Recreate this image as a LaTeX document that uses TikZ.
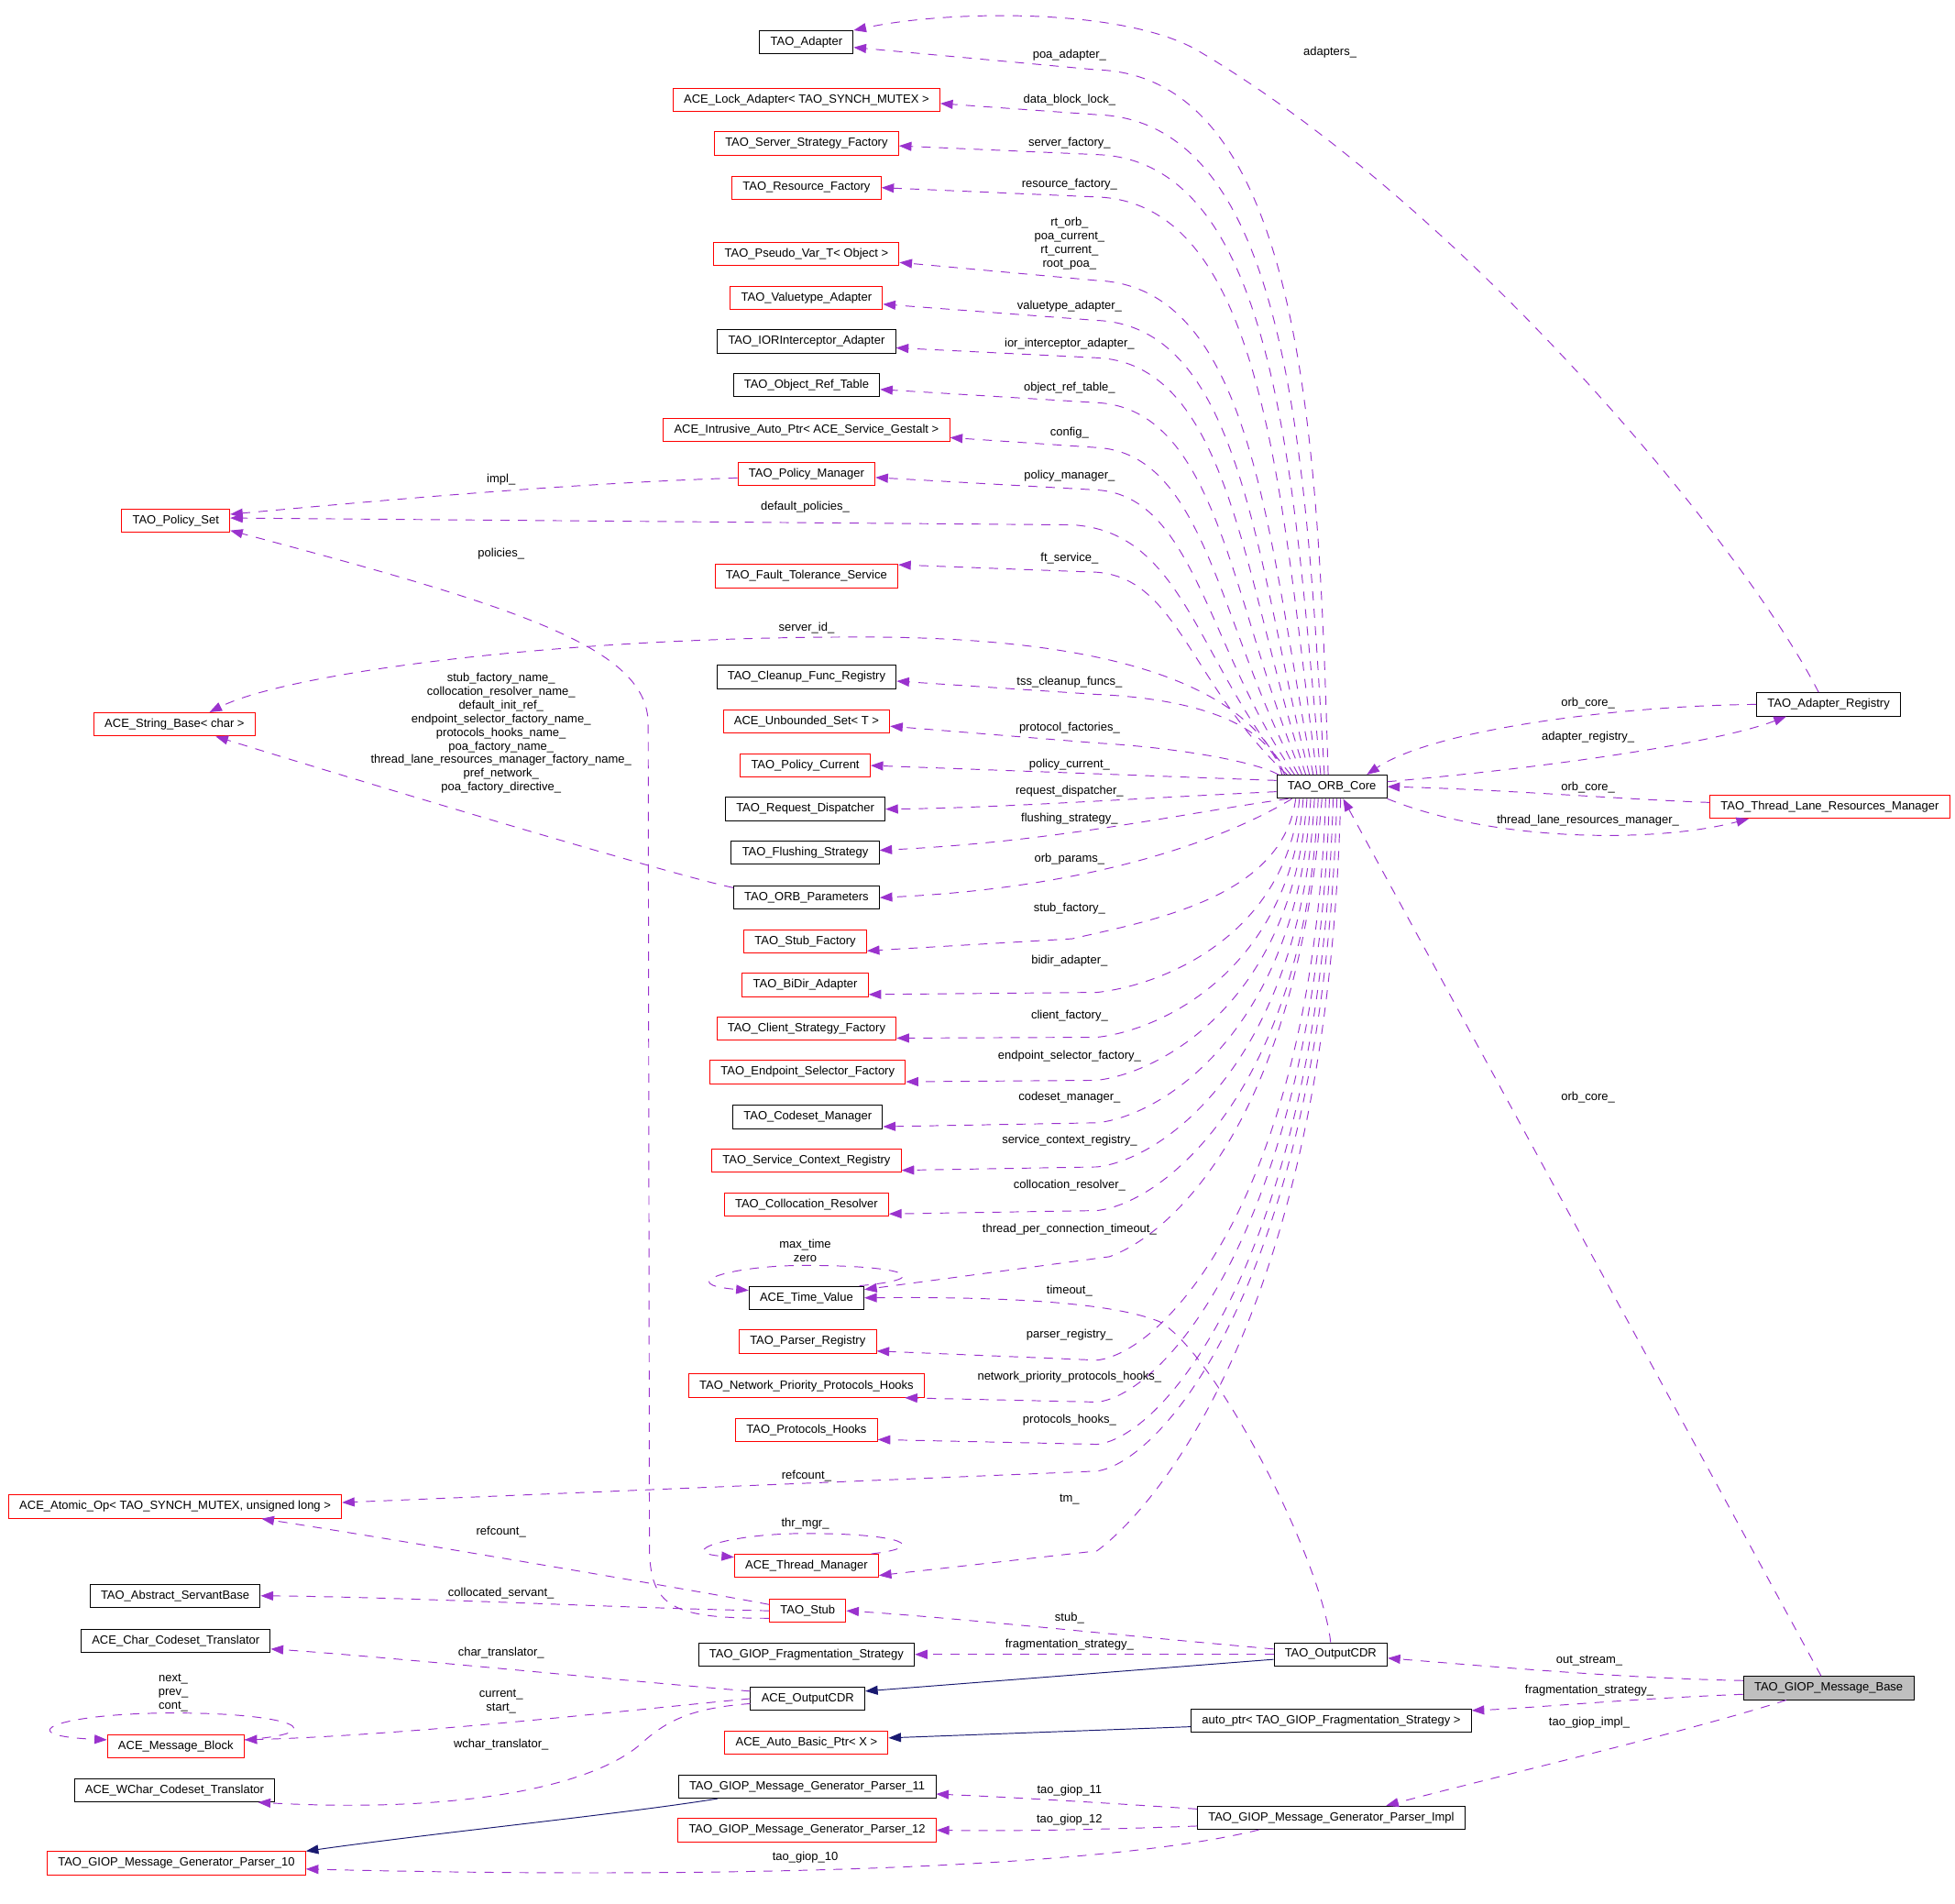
\documentclass[tikz,border=0pt]{standalone}
\usepackage{fontspec}
\setmainfont{Liberation Sans}
\usetikzlibrary{arrows.meta}
\definecolor{collcol}{HTML}{9A32CD}
\definecolor{inhrcol}{HTML}{191970}

\begin{document}
\begin{tikzpicture}[x=0.03cm,y=-0.03cm,
  every node/.style={font=\fontsize{8.15}{9.4}\selectfont},
  cls/.style={draw=black,fill=white,line width=0.6pt,inner xsep=0.26cm,inner ysep=0pt,minimum height=0.56cm},
  clsr/.style={cls,draw=red},
  clsmain/.style={cls,fill=gray!50},
  lbl/.style={inner sep=0pt,align=center},
  coll/.style={draw=collcol,line width=0.6pt,dash pattern=on 0.22cm off 0.2cm,-{Triangle[length=0.3cm,width=0.22cm]}},
  inhr/.style={draw=inhrcol,line width=0.6pt,-{Triangle[length=0.3cm,width=0.22cm]}}]
\useasboundingbox (0,0) rectangle (1568.4,1526.5);

% classes, middle column
\node[cls] (adapter) at (647,34) {TAO\_Adapter};
\node[clsr] (lockad) at (647,80) {ACE\_Lock\_Adapter< TAO\_SYNCH\_MUTEX >};
\node[clsr] (ssfact) at (647,115) {TAO\_Server\_Strategy\_Factory};
\node[clsr] (resfact) at (647,150.5) {TAO\_Resource\_Factory};
\node[clsr] (pseudovar) at (647,203.5) {TAO\_Pseudo\_Var\_T< Object >};
\node[clsr] (valadapter) at (647,239) {TAO\_Valuetype\_Adapter};
\node[cls] (iorad) at (647,274) {TAO\_IORInterceptor\_Adapter};
\node[cls] (objreft) at (647,309) {TAO\_Object\_Ref\_Table};
\node[clsr] (intrusive) at (647,345) {ACE\_Intrusive\_Auto\_Ptr< ACE\_Service\_Gestalt >};
\node[clsr] (polmgr) at (647,380) {TAO\_Policy\_Manager};
\node[clsr] (ftserv) at (647,462) {TAO\_Fault\_Tolerance\_Service};
\node[cls] (cleanup) at (647,543) {TAO\_Cleanup\_Func\_Registry};
\node[clsr] (unbset) at (647,578.5) {ACE\_Unbounded\_Set< T >};
\node[clsr] (polcur) at (646,614) {TAO\_Policy\_Current};
\node[cls] (reqdisp) at (646,649) {TAO\_Request\_Dispatcher};
\node[cls] (flushstr) at (646,684) {TAO\_Flushing\_Strategy};
\node[cls] (orbparams) at (647,720) {TAO\_ORB\_Parameters};
\node[clsr] (stubfact) at (646,755) {TAO\_Stub\_Factory};
\node[clsr] (bidir) at (646,790) {TAO\_BiDir\_Adapter};
\node[clsr] (clistrat) at (647,825) {TAO\_Client\_Strategy\_Factory};
\node[clsr] (epsel) at (648,860) {TAO\_Endpoint\_Selector\_Factory};
\node[cls] (codeset) at (648,896) {TAO\_Codeset\_Manager};
\node[clsr] (svcctx) at (647,931) {TAO\_Service\_Context\_Registry};
\node[clsr] (colres) at (647,966) {TAO\_Collocation\_Resolver};
\node[cls] (timeval) at (647,1041) {ACE\_Time\_Value};
\node[clsr] (parsreg) at (648,1076) {TAO\_Parser\_Registry};
\node[clsr] (npphooks) at (647,1111.5) {TAO\_Network\_Priority\_Protocols\_Hooks};
\node[clsr] (prothooks) at (647,1147) {TAO\_Protocols\_Hooks};
\node[clsr] (thrmgr) at (647,1256) {ACE\_Thread\_Manager};
\node[clsr] (stub) at (648,1292) {TAO\_Stub};
\node[cls] (fragstr) at (647,1327) {TAO\_GIOP\_Fragmentation\_Strategy};
\node[cls] (aoutcdr) at (648,1362.5) {ACE\_OutputCDR};
\node[clsr] (autobasic) at (647,1398) {ACE\_Auto\_Basic\_Ptr< X >};
\node[cls] (gmgp11) at (647.5,1433) {TAO\_GIOP\_Message\_Generator\_Parser\_11};
\node[clsr] (gmgp12) at (647.5,1468) {TAO\_GIOP\_Message\_Generator\_Parser\_12};

% classes, left column
\node[clsr] (polset) at (141,417.5) {TAO\_Policy\_Set};
\node[clsr] (strbase) at (140,581) {ACE\_String\_Base< char >};
\node[clsr] (atomicop) at (140.5,1208.5) {ACE\_Atomic\_Op< TAO\_SYNCH\_MUTEX, unsigned long >};
\node[cls] (servbase) at (140.5,1280) {TAO\_Abstract\_ServantBase};
\node[cls] (charcs) at (141,1316) {ACE\_Char\_Codeset\_Translator};
\node[clsr] (msgblock) at (141,1400.5) {ACE\_Message\_Block};
\node[cls] (wcharcs) at (140,1436) {ACE\_WChar\_Codeset\_Translator};
\node[clsr] (gmgp10) at (141.5,1494.5) {TAO\_GIOP\_Message\_Generator\_Parser\_10};

% classes, right
\node[cls] (orbcore) at (1068.5,631) {TAO\_ORB\_Core};
\node[cls] (toutcdr) at (1067.5,1327) {TAO\_OutputCDR};
\node[cls] (autoptr) at (1068,1380) {auto\_ptr< TAO\_GIOP\_Fragmentation\_Strategy >};
\node[cls] (gmgpimpl) at (1068,1458) {TAO\_GIOP\_Message\_Generator\_Parser\_Impl};
\node[cls] (adreg) at (1467,565) {TAO\_Adapter\_Registry};
\node[clsr] (tlrm) at (1468,647) {TAO\_Thread\_Lane\_Resources\_Manager};
\node[clsmain] (msgbase) at (1467,1354) {TAO\_GIOP\_Message\_Base};

% ORB_Core, upper fan
\draw[coll] ([xshift=-0.09cm]orbcore.north) .. controls (1058,367) and (1048,61) .. (880,56) -- ([yshift=-0.12cm]adapter.east);%poa_adapter_
\draw[coll] ([xshift=-0.18cm]orbcore.north) .. controls (1048,383) and (1038,97) .. (880,92) -- ([yshift=-0.09cm]lockad.east);%data_block_lock_
\draw[coll] ([xshift=-0.27cm]orbcore.north) .. controls (1038,398) and (1028,129) .. (880,124) -- ([yshift=-0.06cm]ssfact.east);%server_factory_
\draw[coll] ([xshift=-0.36cm]orbcore.north) .. controls (1028,413) and (1018,163) .. (880,158) -- (resfact.east);%resource_factory_
\draw[coll] ([xshift=-0.45cm]orbcore.north) .. controls (1018,443) and (1008,230) .. (880,225) -- ([yshift=-0.21cm]pseudovar.east);%rt_orb_ etc
\draw[coll] ([xshift=-0.54cm]orbcore.north) .. controls (1008,458) and (998,262) .. (880,257) -- ([yshift=-0.15cm]valadapter.east);%valuetype_adapter_
\draw[coll] ([xshift=-0.63cm]orbcore.north) .. controls (998,471) and (988,292) .. (880,287) -- ([yshift=-0.15cm]iorad.east);%ior_interceptor_adapter_
\draw[coll] ([xshift=-0.72cm]orbcore.north) .. controls (988,487) and (978,328) .. (880,323) -- ([yshift=-0.1cm]objreft.east);%object_ref_table_
\draw[coll] ([xshift=-0.81cm]orbcore.north) .. controls (978,504) and (968,364) .. (880,359) -- ([yshift=-0.18cm]intrusive.east);%config_
\draw[coll] ([xshift=-0.9cm]orbcore.north) .. controls (968,519) and (958,398) .. (880,393) -- ([yshift=-0.09cm]polmgr.east);%policy_manager_
\draw[coll] ([xshift=-0.99cm]orbcore.north) .. controls (960,532) and (950,426) .. (860,421) -- ([yshift=0.06cm]polset.east);%default_policies_
\draw[coll] ([xshift=-1.08cm]orbcore.north) .. controls (955,549) and (945,464) .. (880,459) -- ([yshift=0.27cm]ftserv.east);%ft_service_
\draw[coll] ([xshift=-1.14cm]orbcore.north) .. controls (1000,545) and (880,512) .. (700,511) .. controls (450,510) and (230,540) .. ([xshift=0.84cm]strbase.north);%server_id_
\draw[coll] ([xshift=-1.2cm]orbcore.north) .. controls (1018,577) and (950,560) .. (880,557) -- ([yshift=-0.1cm]cleanup.east);%tss_cleanup_funcs_
\draw[coll] ([xshift=-1.29cm]orbcore.north) .. controls (1010,612) and (950,600) .. (880,596) -- ([yshift=-0.12cm]unbset.east);%protocol_factories_
\draw[coll] ([yshift=0.15cm]orbcore.west) -- (polcur.east);%policy_current_
\draw[coll] ([yshift=-0.12cm]orbcore.west) .. controls (900,641) and (800,648) .. (reqdisp.east);%request_dispatcher_
\draw[coll] ([xshift=-1.05cm]orbcore.south) .. controls (950,652) and (850,675) .. ([yshift=0.06cm]flushstr.east);%flushing_strategy_
\draw[coll] ([xshift=-0.96cm]orbcore.south) .. controls (985,672) and (880,712) .. (orbparams.east);%orb_params_

% ORB_Core, lower fan
\draw[coll] ([xshift=-0.87cm]orbcore.south) .. controls (1029,720) and (925,738) .. (860,753) -- ([yshift=0.06cm]stubfact.south east);%stub_factory_
\draw[coll] ([xshift=-0.78cm]orbcore.south) .. controls (1032,749) and (935,790) .. (880,796) -- ([yshift=0.06cm]bidir.south east);%bidir_adapter_
\draw[coll] ([xshift=-0.69cm]orbcore.south) .. controls (1035,775) and (935,826) .. (880,832) -- ([yshift=0.06cm]clistrat.south east);%client_factory_
\draw[coll] ([xshift=-0.6cm]orbcore.south) .. controls (1038,799) and (935,860) .. (880,866.5) -- ([yshift=0.06cm]epsel.south east);%endpoint_selector_factory_
\draw[coll] ([xshift=-0.51cm]orbcore.south) .. controls (1041,823) and (935,895) .. (880,900.6) -- ([yshift=0.06cm]codeset.south east);%codeset_manager_
\draw[coll] ([xshift=-0.42cm]orbcore.south) .. controls (1044,848) and (935,930) .. (880,936) -- ([yshift=0.06cm]svcctx.south east);%service_context_registry_
\draw[coll] ([xshift=-0.33cm]orbcore.south) .. controls (1047,872) and (935,965) .. (880,971) -- ([yshift=0.06cm]colres.south east);%collocation_resolver_
\draw[coll] ([xshift=-0.24cm]orbcore.south) .. controls (1040,900) and (940,990) .. (890,1008) -- ([yshift=0.2cm]timeval.east);%thread_per_connection_timeout_
\draw[coll] ([xshift=-0.15cm]orbcore.south) .. controls (1053,956) and (935,1085) .. (880,1091) -- ([yshift=0.06cm]parsreg.south east);%parser_registry_
\draw[coll] ([xshift=-0.06cm]orbcore.south) .. controls (1056,979) and (935,1119) .. (880,1124.6) -- ([xshift=-0.48cm]npphooks.south east);%network_priority_protocols_hooks_
\draw[coll] ([xshift=0.03cm]orbcore.south) .. controls (1059,1003) and (935,1153) .. (880,1158.5) -- ([yshift=0.06cm]prothooks.south east);%protocols_hooks_
\draw[coll] ([xshift=0.12cm]orbcore.south) .. controls (1062,1018) and (935,1172) .. (880,1180) -- ([yshift=0.1cm]atomicop.east);%refcount_
\draw[coll] ([xshift=0.21cm]orbcore.south) .. controls (1065,1063) and (920,1215) .. (880,1244) -- ([yshift=0.06cm]thrmgr.south east);%tm_

% right hand side
\draw[coll] ([xshift=-0.24cm]adreg.north) .. controls (1400,440) and (1180,170) .. (960,40) .. controls (900,6) and (760,8) .. (adapter.north east);%adapters_
\draw[coll] (adreg.west) .. controls (1300,566) and (1150,585) .. ([xshift=0.84cm]orbcore.north);%orb_core_
\draw[coll] ([yshift=0.12cm]orbcore.east) .. controls (1250,615) and (1380,595) .. ([xshift=-1.02cm]adreg.south);%adapter_registry_
\draw[coll] ([yshift=0.1cm]tlrm.west) .. controls (1300,641) and (1200,633) .. (orbcore.east);%orb_core_
\draw[coll] (orbcore.south east) .. controls (1200,676) and (1330,676) .. ([xshift=-1.95cm]tlrm.south);%thread_lane_resources_manager_
\draw[coll] ([xshift=-0.18cm]msgbase.north) -- ([xshift=0.27cm]orbcore.south);%orb_core_
\draw[coll] ([yshift=0.18cm]msgbase.west) .. controls (1300,1346) and (1200,1337) .. ([yshift=-0.09cm]toutcdr.east);%out_stream_
\draw[coll] ([yshift=-0.15cm]msgbase.west) .. controls (1300,1363) and (1230,1370) .. ([yshift=0.24cm]autoptr.east);%fragmentation_strategy_
\draw[coll] ([xshift=-1.02cm]msgbase.south) .. controls (1350,1390) and (1200,1425) .. ([xshift=1.32cm]gmgpimpl.north);%tao_giop_impl_
\draw[coll] ([yshift=0.21cm]gmgpimpl.west) .. controls (900,1447) and (820,1442) .. ([yshift=-0.18cm]gmgp11.east);%tao_giop_11
\draw[coll] ([yshift=-0.2cm]gmgpimpl.west) .. controls (900,1467) and (820,1469) .. (gmgp12.east);%tao_giop_12
\draw[coll] ([xshift=-1.74cm]gmgpimpl.south) .. controls (880,1500) and (560,1507) .. ([yshift=-0.14cm]gmgp10.east);%tao_giop_10

% OutputCDR and friends
\draw[coll] ([yshift=0.13cm]toutcdr.west) .. controls (900,1312) and (760,1297) .. (stub.east);%stub_
\draw[coll] (toutcdr.west) -- (fragstr.east);%fragmentation_strategy_
\draw[coll] (toutcdr.north) .. controls (1060,1250) and (975,1085) .. (930,1060) .. controls (890,1044) and (800,1040) .. (timeval.east);%timeout_
\draw[coll] ([yshift=0.18cm]aoutcdr.west) .. controls (520,1350) and (300,1328) .. ([yshift=-0.2cm]charcs.east);%char_translator_
\draw[coll] (aoutcdr.west) .. controls (520,1370) and (330,1392) .. ([yshift=0.15cm]msgblock.east);%current_ start_
\draw[coll] ([yshift=-0.12cm]aoutcdr.west) .. controls (555,1370) and (535,1380) .. (515,1398) .. controls (480,1430) and (380,1455) .. ([xshift=2.01cm]wcharcs.south);%wchar_translator_
\draw[coll] ([yshift=-0.18cm]stub.west) .. controls (540,1298) and (521,1290) .. (521,1240) -- (520,580) .. controls (519,520) and (420,488) .. ([yshift=-0.24cm]polset.east);%policies_
\draw[coll] ([yshift=0.15cm]stub.west) .. controls (560,1276) and (300,1232) .. ([xshift=2.08cm]atomicop.south);%refcount_
\draw[coll] (stub.west) .. controls (500,1290) and (330,1281) .. (servbase.east);%collocated_servant_
\draw[coll] ([yshift=-0.1cm]polmgr.west) .. controls (450,388) and (300,402) .. ([yshift=0.15cm]polset.east);%impl_
\draw[coll] ([yshift=0.24cm]orbparams.west) .. controls (540,702) and (300,630) .. ([xshift=0.99cm]strbase.south);%..._name_

% self loops
\draw[coll] ([xshift=-0.12cm]timeval.north east) .. controls (750,1026) and (730,1015) .. (646,1015) .. controls (585,1015) and (540,1030) .. ([yshift=0.18cm]timeval.west);
\draw[coll] ([xshift=-0.18cm]thrmgr.north east) .. controls (746,1241) and (726,1230) .. (646,1230) .. controls (585,1230) and (540,1245) .. ([yshift=0.21cm]thrmgr.west);
\draw[coll] ([yshift=0.15cm]msgblock.east) .. controls (270,1390) and (235,1374) .. (140,1374) .. controls (45,1374) and (5,1392) .. ([yshift=0.15cm]msgblock.west);

% inheritance
\draw[inhr] ([yshift=-0.12cm]toutcdr.west) -- ([yshift=0.18cm]aoutcdr.east);
\draw[inhr] ([yshift=-0.15cm]autoptr.west) -- ([yshift=0.12cm]autobasic.east);
\draw[inhr] ([xshift=-2.15cm]gmgp11.south) .. controls (500,1455) and (350,1470) .. (gmgp10.north east);

% edge labels
\node[lbl] (lpoa) at (858,44) {poa\_adapter\_};
\node[lbl] (ldbl) at (858,80) {data\_block\_lock\_};
\node[lbl] (lsf) at (858,114.5) {server\_factory\_};
\node[lbl] (lrf) at (858,148) {resource\_factory\_};
\node[lbl] (lpv) at (858,195) {rt\_orb\_\\poa\_current\_\\rt\_current\_\\root\_poa\_};
\node[lbl] (lva) at (858,246) {valuetype\_adapter\_};
\node[lbl] (lior) at (858,276) {ior\_interceptor\_adapter\_};
\node[lbl] (lort) at (858,311.5) {object\_ref\_table\_};
\node[lbl] (lcfg) at (858,347) {config\_};
\node[lbl] (lpm) at (858,382) {policy\_manager\_};
\node[lbl] (limpl) at (402,385) {impl\_};
\node[lbl] (ldp) at (646,407) {default\_policies\_};
\node[lbl] (lpol) at (402,444) {policies\_};
\node[lbl] (lft) at (858,448) {ft\_service\_};
\node[lbl] (lsid) at (647,504) {server\_id\_};
\node[lbl] (ltss) at (858,547) {tss\_cleanup\_funcs\_};
\node[lbl] (lnames) at (402,588) {stub\_factory\_name\_\\collocation\_resolver\_name\_\\default\_init\_ref\_\\endpoint\_selector\_factory\_name\_\\protocols\_hooks\_name\_\\poa\_factory\_name\_\\thread\_lane\_resources\_manager\_factory\_name\_\\pref\_network\_\\poa\_factory\_directive\_};
\node[lbl] (lpf) at (858,584) {protocol\_factories\_};
\node[lbl] (lpc) at (858,613) {policy\_current\_};
\node[lbl] (lrd) at (858,635) {request\_dispatcher\_};
\node[lbl] (lfs) at (858,656.5) {flushing\_strategy\_};
\node[lbl] (lop) at (858,689) {orb\_params\_};
\node[lbl] (lstf) at (858,728.6) {stub\_factory\_};
\node[lbl] (lbd) at (858,771) {bidir\_adapter\_};
\node[lbl] (lcf) at (858,815) {client\_factory\_};
\node[lbl] (lesf) at (858,847) {endpoint\_selector\_factory\_};
\node[lbl] (lcm) at (858,880) {codeset\_manager\_};
\node[lbl] (lscr) at (858,915) {service\_context\_registry\_};
\node[lbl] (lcr) at (858,951) {collocation\_resolver\_};
\node[lbl] (ltpc) at (858,986) {thread\_per\_connection\_timeout\_};
\node[lbl] (lmax) at (646,1003) {max\_time\\zero};
\node[lbl] (lto) at (858,1035.5) {timeout\_};
\node[lbl] (lpr) at (858,1071) {parser\_registry\_};
\node[lbl] (lnpph) at (858,1104.6) {network\_priority\_protocols\_hooks\_};
\node[lbl] (lph) at (858,1139) {protocols\_hooks\_};
\node[lbl] (lrc) at (647,1184) {refcount\_};
\node[lbl] (ltm) at (858,1203) {tm\_};
\node[lbl] (lthr) at (646,1222) {thr\_mgr\_};
\node[lbl] (lrc2) at (402,1229) {refcount\_};
\node[lbl] (lcs) at (402,1278) {collocated\_servant\_};
\node[lbl] (lstub) at (858,1298) {stub\_};
\node[lbl] (lfrag) at (858,1319) {fragmentation\_strategy\_};
\node[lbl] (lct) at (402,1326) {char\_translator\_};
\node[lbl] (lcur) at (402,1364.5) {current\_\\start\_};
\node[lbl] (lnext) at (139,1357.5) {next\_\\prev\_\\cont\_};
\node[lbl] (lwct) at (402,1399) {wchar\_translator\_};
\node[lbl] (lg11) at (858,1436) {tao\_giop\_11};
\node[lbl] (lg12) at (858,1460) {tao\_giop\_12};
\node[lbl] (lg10) at (646,1490) {tao\_giop\_10};
\node[lbl] (ladp) at (1067,42) {adapters\_};
\node[lbl] (lorb1) at (1274,564) {orb\_core\_};
\node[lbl] (lareg) at (1274,591) {adapter\_registry\_};
\node[lbl] (lorb2) at (1274,632) {orb\_core\_};
\node[lbl] (ltlrm) at (1274,658) {thread\_lane\_resources\_manager\_};
\node[lbl] (lorb3) at (1274,880) {orb\_core\_};
\node[lbl] (los) at (1275,1332) {out\_stream\_};
\node[lbl] (lfrag2) at (1275,1356) {fragmentation\_strategy\_};
\node[lbl] (lgimpl) at (1275,1382) {tao\_giop\_impl\_};
\end{tikzpicture}
\end{document}
